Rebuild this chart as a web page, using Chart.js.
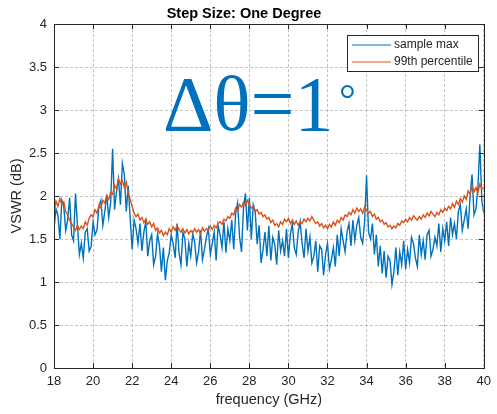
<!DOCTYPE html>
<html>
<head>
<meta charset="utf-8">
<script src="https://cdn.jsdelivr.net/npm/chart.js@4.4.1/dist/chart.umd.min.js"></script>
<style>
  html, body { margin: 0; padding: 0; background: #fff; }
  #wrap { width: 497px; height: 414px; }
</style>
</head>
<body>
<div id="wrap"><canvas id="vswrChart"></canvas></div>
<script>
// frequency grid: 18 to 40 GHz in 0.1 GHz steps
const freqStart = 18;
const freqStep = 0.1;

// sample max (blue)
const sampleMax = [
  1.62, 1.85, 1.78, 1.50, 1.95, 1.88, 1.60, 1.72, 1.98, 1.55,
  1.48, 2.03, 1.66, 1.32, 1.45, 1.28, 1.58, 1.62, 1.36, 1.41,
  1.70, 1.55, 1.60, 1.88, 1.95, 1.66, 1.82, 2.02, 1.75, 1.92,
  2.55, 1.84, 2.05, 2.20, 1.90, 2.38, 2.25, 1.82, 2.12, 1.74,
  1.38, 1.72, 1.62, 1.45, 1.68, 1.36, 1.58, 1.70, 1.30, 1.48,
  1.55, 1.20, 1.30, 1.56, 1.42, 1.12, 1.40, 1.02, 1.25, 1.34,
  1.55, 1.45, 1.28, 1.68, 1.34, 1.20, 1.58, 1.50, 1.18, 1.45,
  1.30, 1.56, 1.46, 1.22, 1.35, 1.60, 1.26, 1.38, 1.52, 1.62,
  1.32, 1.45, 1.58, 1.25, 1.66, 1.55, 1.40, 1.70, 1.34, 1.62,
  1.48, 1.72, 1.38, 1.80, 1.92, 1.52, 1.35, 1.86, 2.03, 1.60,
  1.98, 1.50, 1.90, 1.82, 1.44, 1.66, 1.22, 1.38, 1.58, 1.30,
  1.65, 1.25, 1.52, 1.44, 1.20, 1.60, 1.36, 1.48, 1.30, 1.62,
  1.28, 1.55, 1.68, 1.40, 1.32, 1.58, 1.70, 1.45, 1.28, 1.62,
  1.36, 1.52, 1.22, 1.30, 1.48, 1.12, 1.42, 1.38, 1.08, 1.32,
  1.45, 1.15, 1.26, 1.40, 1.18, 1.55, 1.30, 1.62, 1.48, 1.35,
  1.58, 1.68, 1.42, 1.72, 1.48, 1.66, 1.75, 1.52, 1.45, 1.70,
  2.24, 1.58, 1.50, 1.68, 1.32, 1.55, 1.18, 1.42, 1.10, 1.36,
  1.05, 1.30, 1.25, 0.97, 1.12, 1.40, 1.08, 1.35, 1.20, 1.48,
  1.15, 1.38, 1.22, 1.52, 1.45, 1.28, 1.18, 1.55, 1.32, 1.48,
  1.26, 1.55, 1.60, 1.30, 1.38, 1.52, 1.42, 1.68, 1.35, 1.62,
  1.48, 1.70, 1.42, 1.75, 1.55, 1.68, 1.50, 1.82, 1.90, 1.60,
  1.72, 1.85, 1.62, 2.00, 2.25, 1.78, 1.85, 2.10, 2.60, 1.95,
  1.80
];

// 99th percentile (orange)
const pct99 = [
  1.82, 1.94, 1.88, 1.97, 1.90, 1.93, 1.82, 1.78, 1.72, 1.68,
  1.64, 1.60, 1.66, 1.61, 1.65, 1.62, 1.70, 1.66, 1.74, 1.78,
  1.76, 1.84, 1.80, 1.89, 1.86, 1.95, 1.92, 2.00, 1.96, 2.04,
  2.02, 2.12, 2.08, 2.20, 2.14, 2.18, 2.10, 2.16, 2.03, 1.96,
  1.88, 1.80, 1.76, 1.79, 1.72, 1.75, 1.69, 1.73, 1.67, 1.70,
  1.64, 1.68, 1.60, 1.63, 1.57, 1.60, 1.54, 1.58, 1.55, 1.62,
  1.58, 1.64, 1.60, 1.66, 1.61, 1.58, 1.62, 1.57, 1.61, 1.56,
  1.60, 1.57, 1.62, 1.58, 1.61, 1.56, 1.63, 1.59, 1.62, 1.60,
  1.65, 1.61, 1.66, 1.63, 1.68, 1.70, 1.67, 1.73, 1.71, 1.76,
  1.74, 1.80, 1.78, 1.86, 1.83, 1.90, 1.87, 1.93, 1.89, 1.95,
  1.90, 1.86, 1.88, 1.82, 1.84, 1.79, 1.81, 1.76, 1.78, 1.73,
  1.75, 1.69, 1.72, 1.66, 1.68, 1.64, 1.70, 1.67, 1.73, 1.70,
  1.74, 1.68, 1.72, 1.67, 1.71, 1.66, 1.70, 1.68, 1.73, 1.70,
  1.74, 1.71, 1.76, 1.72, 1.68, 1.70, 1.65, 1.68, 1.63, 1.66,
  1.62, 1.67, 1.64, 1.70, 1.66, 1.72, 1.69, 1.75, 1.72, 1.78,
  1.76, 1.81, 1.78, 1.84, 1.80, 1.86, 1.82, 1.85, 1.80, 1.87,
  1.84, 1.80, 1.82, 1.76, 1.79, 1.73, 1.75, 1.70, 1.72, 1.67,
  1.69, 1.64, 1.66, 1.62, 1.65, 1.63, 1.68, 1.66, 1.71, 1.69,
  1.73, 1.70, 1.75, 1.72, 1.77, 1.74, 1.72, 1.76, 1.73, 1.78,
  1.75, 1.80, 1.77, 1.82, 1.79, 1.76, 1.81, 1.78, 1.84, 1.81,
  1.86, 1.83, 1.88, 1.85, 1.91, 1.87, 1.94, 1.90, 1.97, 1.93,
  2.00, 1.96, 2.06, 2.02, 2.12, 2.05, 2.10, 2.03, 2.14, 2.08,
  2.10
];

const xTicks = [18, 20, 22, 24, 26, 28, 30, 32, 34, 36, 38, 40];
const yTicks = [0, 0.5, 1, 1.5, 2, 2.5, 3, 3.5, 4];

const blue = '#0072BD';
const orange = '#D95319';
const axisColor = '#262626';
const sans = '"Liberation Sans", Arial, sans-serif';

function toPoints(values) {
    return values.map((v, i) => ({ x: +(freqStart + i * freqStep).toFixed(1), y: v }));
}

// box, inward tick marks, legend and the big annotation
const matlabLook = {
    id: 'matlabLook',
    afterDraw(chart) {
        const { ctx, chartArea: a, scales } = chart;
        ctx.save();
        ctx.strokeStyle = axisColor;
        ctx.lineWidth = 1;
        ctx.beginPath();
        xTicks.forEach(t => {
            const px = Math.round(scales.x.getPixelForValue(t)) + 0.5;
            ctx.moveTo(px, a.bottom); ctx.lineTo(px, a.bottom - 5);
            ctx.moveTo(px, a.top); ctx.lineTo(px, a.top + 5);
        });
        yTicks.forEach(t => {
            const py = Math.round(scales.y.getPixelForValue(t)) + 0.5;
            ctx.moveTo(a.left, py); ctx.lineTo(a.left + 5, py);
            ctx.moveTo(a.right, py); ctx.lineTo(a.right - 5, py);
        });
        ctx.stroke();
        ctx.strokeRect(Math.round(a.left) + 0.5, Math.round(a.top) + 0.5,
            Math.round(a.right - a.left), Math.round(a.bottom - a.top));

        // legend
        const lx = 347, ly = 35, lw = 131, lh = 36;
        ctx.fillStyle = '#fff';
        ctx.fillRect(lx, ly, lw, lh);
        ctx.strokeStyle = axisColor;
        ctx.strokeRect(lx + 0.5, ly + 0.5, lw, lh);
        ctx.font = '12px ' + sans;
        ctx.textBaseline = 'middle';
        chart.data.datasets.forEach((ds, i) => {
            const y = ly + 10 + i * 17;
            ctx.strokeStyle = ds.borderColor;
            ctx.lineWidth = 1.2;
            ctx.beginPath();
            ctx.moveTo(lx + 5, y); ctx.lineTo(lx + 44, y);
            ctx.stroke();
            ctx.fillStyle = axisColor;
            ctx.fillText(ds.label, lx + 47, y);
        });

        // Δθ = 1°
        ctx.fillStyle = blue;
        ctx.textBaseline = 'alphabetic';
        ctx.font = '78px "Liberation Serif", "Times New Roman", serif';
        ctx.fillText('Δθ=1', 163, 130);
        ctx.font = '42px "Liberation Serif", "Times New Roman", serif';
        ctx.fillText('°', 339, 113);
        ctx.restore();
    }
};

const ctx = document.getElementById('vswrChart').getContext('2d');
new Chart(ctx, {
    type: 'line',
    data: {
        datasets: [{
            label: 'sample max',
            data: toPoints(sampleMax),
            borderColor: blue,
            borderWidth: 1.4,
            pointRadius: 0,
            tension: 0,
            order: 2
        }, {
            label: '99th percentile',
            data: toPoints(pct99),
            borderColor: orange,
            borderWidth: 1.4,
            pointRadius: 0,
            tension: 0,
            order: 1
        }]
    },
    options: {
        responsive: true,
        maintainAspectRatio: false,
        animation: false,
        layout: { padding: { left: 0, right: 9, top: 0, bottom: 0 } },
        plugins: {
            legend: { display: false },
            tooltip: { enabled: false },
            title: {
                display: true,
                text: 'Step Size: One Degree',
                color: '#000',
                font: { family: sans, size: 14.5, weight: 'bold' },
                padding: { top: 5, bottom: 1.6 }
            }
        },
        scales: {
            x: {
                type: 'linear',
                min: 18,
                max: 40,
                afterBuildTicks: axis => { axis.ticks = xTicks.map(v => ({ value: v })); },
                afterFit: axis => { axis.height = 46; },
                ticks: {
                    color: axisColor,
                    padding: 6,
                    maxRotation: 0,
                    font: { family: sans, size: 13 }
                },
                grid: { color: '#c4c4c4', drawTicks: false },
                border: { color: axisColor, dash: [3, 2] },
                title: {
                    display: true,
                    text: 'frequency (GHz)',
                    color: axisColor,
                    font: { family: sans, size: 14.5 },
                    padding: { top: 0, bottom: 5 }
                }
            },
            y: {
                min: 0,
                max: 4,
                afterBuildTicks: axis => { axis.ticks = yTicks.map(v => ({ value: v })); },
                afterFit: axis => { axis.width = 54; },
                ticks: {
                    color: axisColor,
                    padding: 7,
                    font: { family: sans, size: 13 },
                    callback: v => String(v)
                },
                grid: { color: '#c4c4c4', drawTicks: false },
                border: { color: axisColor, dash: [3, 2] },
                title: {
                    display: true,
                    text: 'VSWR (dB)',
                    color: axisColor,
                    font: { family: sans, size: 14.5 },
                    padding: { top: 8, bottom: 0 }
                }
            }
        }
    },
    plugins: [matlabLook]
});
</script>
</body>
</html>
